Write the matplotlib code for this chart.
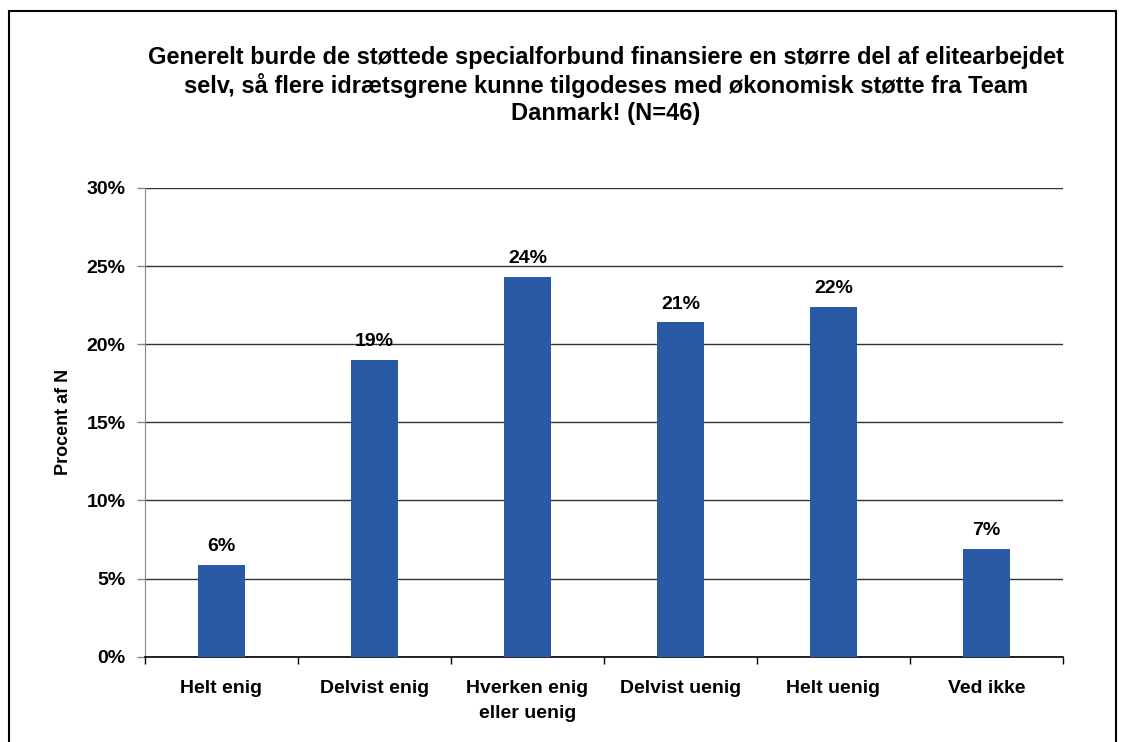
import matplotlib
matplotlib.use("Agg")
import matplotlib.pyplot as plt
import numpy as np
from matplotlib.patches import Rectangle

plt.rcParams['font.family'] = ['Liberation Sans', 'DejaVu Sans']

categories = ["Helt enig", "Delvist enig", "Hverken enig\neller uenig", "Delvist uenig", "Helt uenig", "Ved ikke"]
values = [5.9, 19.0, 24.3, 21.4, 22.4, 6.9]
value_labels = ["6%", "19%", "24%", "21%", "22%", "7%"]
y_ticks = [0, 5, 10, 15, 20, 25, 30]
y_tick_labels = ["0%", "5%", "10%", "15%", "20%", "25%", "30%"]
title = ("Generelt burde de støttede specialforbund finansiere en større del af elitearbejdet\n"
         "selv, så flere idrætsgrene kunne tilgodeses med økonomisk støtte fra Team\n"
         "Danmark! (N=46)")
ylabel = "Procent af N"

fig = plt.figure(figsize=(11.25, 7.42), dpi=100)
fig.patch.set_facecolor("white")
# outer border
fig.patches.append(Rectangle((9/1125, -0.05), (1116-9)/1125, 1.05 - 11/742,
                             transform=fig.transFigure, fill=False, edgecolor="black", linewidth=1.5))

ax = fig.add_axes([145/1125, 1-656.7/742, (1063-145)/1125, (656.7-188)/742])
x = np.arange(len(categories))
ax.bar(x, values, width=0.31, color="#2A5AA5", zorder=3)
ax.set_xlim(-0.5, len(categories)-0.5)
ax.set_ylim(0, 30)
ax.set_yticks(y_ticks)
ax.set_yticklabels(y_tick_labels, fontsize=14, fontweight="bold")
ax.yaxis.grid(True, color="#333333", linewidth=1, zorder=0)
ax.set_axisbelow(True)
ax.set_xticks(x)
ax.set_xticklabels(categories, fontsize=14, fontweight="bold", linespacing=1.62)
ax.tick_params(axis="x", length=0, pad=17)
ax.set_xticks(np.arange(-0.5, len(categories), 1), minor=True)
ax.tick_params(axis="x", which="minor", length=5, color="black", width=1)
ax.tick_params(axis="y", length=6, color="#888888", width=1, pad=8)
for s in ["top", "right"]:
    ax.spines[s].set_visible(False)
ax.spines["left"].set_color("#888888")
ax.spines["bottom"].set_color("black")
ax.spines["bottom"].set_linewidth(1.2)

for xi, v, lab in zip(x, values, value_labels):
    ax.annotate(lab, (xi, v), xytext=(0, 7), textcoords="offset points",
                ha="center", va="bottom", fontsize=14, fontweight="bold", zorder=4)

fig.text(63/1125, 1-422/742, ylabel, rotation=90, ha="center", va="center",
         fontsize=13, fontweight="bold")
fig.text(606/1125, 1-46/742, title, ha="center", va="top", fontsize=17,
         fontweight="bold", linespacing=1.22)

fig.savefig("out.png", dpi=100)
